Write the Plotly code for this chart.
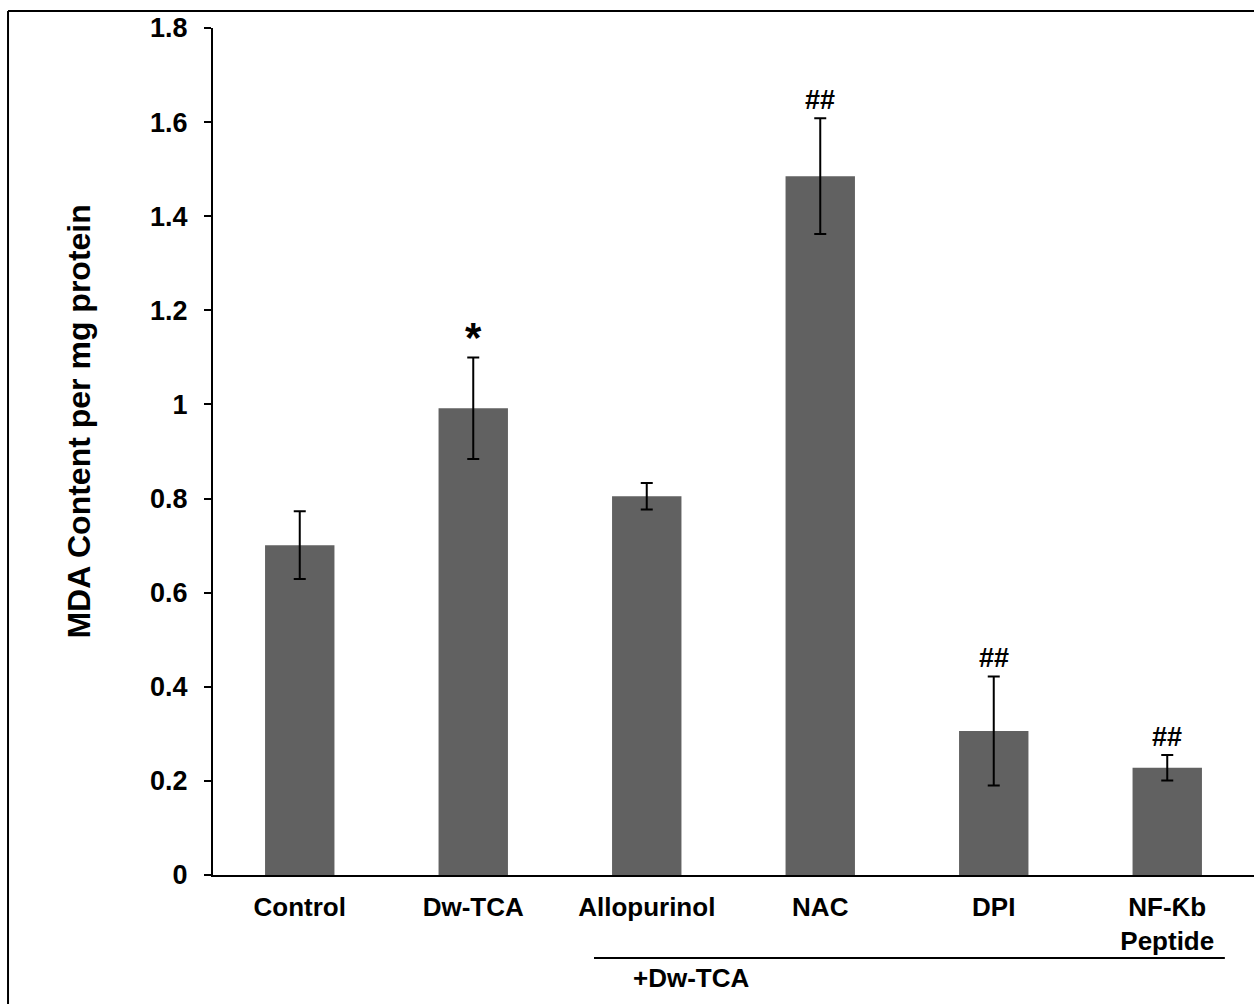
import plotly.graph_objects as go

categories = ["Control", "Dw-TCA", "Allopurinol", "NAC", "DPI", "NF-Ƙb<br>Peptide"]
values = [0.701, 0.992, 0.805, 1.485, 0.306, 0.228]
errors = [0.072, 0.108, 0.028, 0.123, 0.116, 0.027]
marks = ["", "*", "", "##", "##", "##"]
tick_vals = [0, 0.2, 0.4, 0.6, 0.8, 1.0, 1.2, 1.4, 1.6, 1.8]
tick_text = ["0", "0.2", "0.4", "0.6", "0.8", "1", "1.2", "1.4", "1.6", "1.8"]

FONT = "Liberation Sans, Arial, sans-serif"

fig = go.Figure()
fig.add_trace(go.Bar(
    x=categories, y=values,
    marker=dict(color="#616161", line=dict(width=0)),
    width=0.4,
    error_y=dict(type="data", array=errors, visible=True,
                 color="black", thickness=2, width=6),
))

for c, v, e, m in zip(categories, values, errors, marks):
    if not m:
        continue
    if m == "*":
        fig.add_annotation(x=c, y=v + e, text="<b>*</b>", showarrow=False,
                           yanchor="middle", yshift=20,
                           font=dict(family=FONT, size=42, color="black"))
    else:
        fig.add_annotation(x=c, y=v + e, text="<b>##</b>", showarrow=False,
                           yanchor="middle", yshift=18,
                           font=dict(family=FONT, size=27, color="black"))

# bracket under the treatment groups
fig.add_shape(type="line", xref="paper", yref="paper",
              x0=0.366, x1=0.972, y0=-0.098, y1=-0.098,
              line=dict(color="black", width=2))
fig.add_annotation(xref="paper", yref="paper", x=0.46, y=-0.1216,
                   text="<b>+Dw-TCA</b>", showarrow=False,
                   xanchor="center", yanchor="middle",
                   font=dict(family=FONT, size=26, color="black"))

# y-axis title
fig.add_annotation(xref="paper", yref="paper", x=-0.129, y=0.535,
                   text="<b>MDA Content per mg protein</b>", showarrow=False,
                   textangle=-90, xanchor="center", yanchor="middle",
                   font=dict(family=FONT, size=32, color="black"))

# outer frame (left and top edges)
fig.add_shape(type="line", xref="paper", yref="paper",
              x0=-0.1969, x1=-0.1969, y0=1.0201, y1=-0.16,
              line=dict(color="black", width=2))
fig.add_shape(type="line", xref="paper", yref="paper",
              x0=-0.1969, x1=1.01, y0=1.0201, y1=1.0201,
              line=dict(color="black", width=2))

fig.update_layout(
    width=1254, height=1004,
    margin=dict(l=213, r=0, t=28, b=129),
    paper_bgcolor="white", plot_bgcolor="white",
    showlegend=False,
    font=dict(family=FONT, color="black"),
    bargap=0.6,
)
fig.update_xaxes(
    showline=True, linecolor="black", linewidth=2,
    ticks="", showgrid=False, zeroline=False,
    tickfont=dict(family=FONT, size=26, color="black"),
    ticklabelstandoff=8,
    tickprefix="<b>", ticksuffix="</b>",
)
fig.update_yaxes(
    range=[0, 1.8],
    tickvals=tick_vals, ticktext=["<b>" + t + "</b>" for t in tick_text],
    showline=True, linecolor="black", linewidth=2,
    ticks="outside", ticklen=7, tickwidth=2, tickcolor="black",
    showgrid=False, zeroline=False,
    tickfont=dict(family=FONT, size=27, color="black"),
    ticklabelstandoff=11,
)

fig.write_html("out.html")
